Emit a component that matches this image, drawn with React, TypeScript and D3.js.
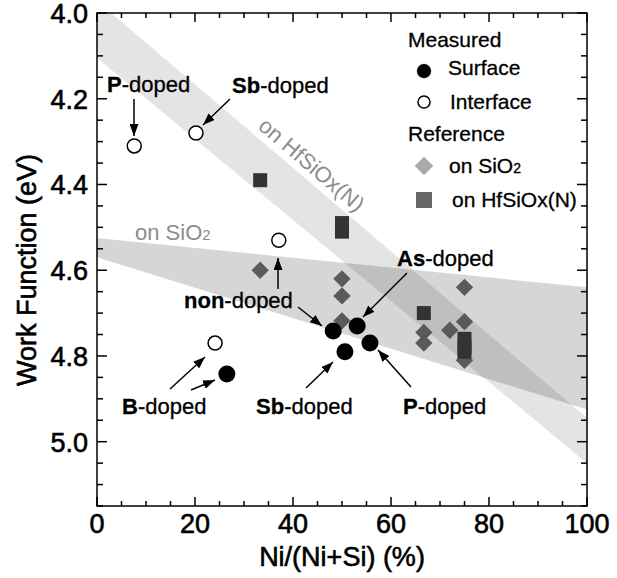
import React, { useEffect, useRef } from "react";
import * as d3 from "d3";

// Ni/(Ni+Si) %, work function eV
const interfacePts = [
  { label: "P", x: 7.6, y: 4.31 },
  { label: "Sb", x: 20.2, y: 4.28 },
  { label: "non", x: 37.1, y: 4.53 },
  { label: "B", x: 24.1, y: 4.77 },
];
const surfacePts = [
  { label: "B", x: 26.5, y: 4.842 },
  { label: "non", x: 48.2, y: 4.742 },
  { label: "As", x: 53.1, y: 4.73 },
  { label: "Sb", x: 50.6, y: 4.79 },
  { label: "P", x: 55.7, y: 4.77 },
];
const refSiO2 = [
  [33.3, 4.6], [50, 4.62], [50, 4.66], [50, 4.718],
  [66.7, 4.745], [66.7, 4.77], [72, 4.74], [75, 4.64], [75, 4.72], [75, 4.81],
];
const refHf = [
  [33.3, 4.39], [50, 4.49], [50, 4.51], [66.7, 4.7], [75, 4.76], [75, 4.78], [75, 4.79],
];
// bands: [x, upper, lower]
const bandHf = [[0, 3.972, 4.105], [100, 4.945, 5.05]];
const bandSiO2 = [[0, 4.525, 4.57], [100, 4.64, 4.925]];

const xTicks = [0, 20, 40, 60, 80, 100];
const yTicks = [4.0, 4.2, 4.4, 4.6, 4.8, 5.0];

const W = 617, H = 578;
const M = { left: 97, top: 13, right: 587, bottom: 506 };
const FONT = "'Liberation Sans', Arial, Helvetica, sans-serif";

export default function App() {
  const ref = useRef<SVGSVGElement>(null);

  useEffect(() => {
    const svg = d3.select(ref.current);
    svg.selectAll("*").remove();
    const x = d3.scaleLinear().domain([0, 100]).range([M.left, M.right]);
    const y = d3.scaleLinear().domain([4.0, 5.15]).range([M.top, M.bottom]);

    svg.append("defs").append("clipPath").attr("id", "clip")
      .append("rect").attr("x", M.left).attr("y", M.top)
      .attr("width", M.right - M.left).attr("height", M.bottom - M.top);
    const mk = svg.select("defs").append("marker").attr("id", "arr")
      .attr("viewBox", "0 0 10 10").attr("refX", 10).attr("refY", 5)
      .attr("markerWidth", 12).attr("markerHeight", 9).attr("markerUnits", "userSpaceOnUse")
      .attr("orient", "auto").attr("preserveAspectRatio", "none");
    mk.append("path").attr("d", "M0,0 L10,5 L0,10 z").attr("fill", "#000");

    const area = d3.area<number[]>()
      .x(d => x(d[0])).y0(d => y(d[1])).y1(d => y(d[2]));
    const gBand = svg.append("g").attr("clip-path", "url(#clip)");
    gBand.append("path").attr("d", area(bandHf)).attr("fill", "#000").attr("fill-opacity", 0.105);
    gBand.append("path").attr("d", area(bandSiO2)).attr("fill", "#000").attr("fill-opacity", 0.16);

    // band labels
    svg.append("text").attr("transform", "translate(257,128) rotate(40.5)")
      .attr("font-family", FONT).attr("font-size", 22).attr("fill", "#8c8c8c")
      .text("on HfSiOx(N)");
    const sio = svg.append("text").attr("x", 135).attr("y", 240)
      .attr("font-family", FONT).attr("font-size", 22).attr("fill", "#8c8c8c");
    sio.append("tspan").text("on SiO");
    sio.append("tspan").attr("font-size", 15).text("2");

    // reference markers
    const sym = d3.symbol();
    svg.append("g").selectAll("path").data(refSiO2).join("path")
      .attr("transform", d => `translate(${x(d[0])},${y(d[1])}) rotate(45)`)
      .attr("d", sym.type(d3.symbolSquare).size(150)())
      .attr("fill", "#5a5a5a");
    svg.append("g").selectAll("rect").data(refHf).join("rect")
      .attr("x", d => x(d[0]) - 7).attr("y", d => y(d[1]) - 7)
      .attr("width", 14).attr("height", 14).attr("fill", "#333");

    svg.append("g").selectAll("circle").data(interfacePts).join("circle")
      .attr("cx", d => x(d.x)).attr("cy", d => y(d.y)).attr("r", 7)
      .attr("fill", "#fff").attr("stroke", "#000").attr("stroke-width", 1.5);
    svg.append("g").selectAll("circle").data(surfacePts).join("circle")
      .attr("cx", d => x(d.x)).attr("cy", d => y(d.y)).attr("r", 8.5)
      .attr("fill", "#000");

    // axes frame
    const frame = svg.append("g").attr("stroke", "#000").attr("stroke-width", 1.5).attr("fill", "none");
    frame.append("rect").attr("x", M.left).attr("y", M.top)
      .attr("width", M.right - M.left).attr("height", M.bottom - M.top);
    const xMinor = d3.range(0, 101, 5);
    const yMinor = d3.range(4.0, 5.151, 0.05);
    xMinor.forEach(v => {
      const L = v % 20 === 0 ? 9 : 5;
      frame.append("line").attr("x1", x(v)).attr("x2", x(v)).attr("y1", M.bottom).attr("y2", M.bottom - L);
      frame.append("line").attr("x1", x(v)).attr("x2", x(v)).attr("y1", M.top).attr("y2", M.top + L);
    });
    yMinor.forEach(v => {
      const major = Math.abs(Math.round(v * 100) % 20) < 1;
      const L = major ? 10 : 6;
      frame.append("line").attr("y1", y(v)).attr("y2", y(v)).attr("x1", M.left).attr("x2", M.left + L);
      frame.append("line").attr("y1", y(v)).attr("y2", y(v)).attr("x1", M.right).attr("x2", M.right - L);
    });

    const tickTxt = (s: d3.Selection<SVGTextElement, any, any, any>) =>
      s.attr("font-family", FONT).attr("font-size", 27).attr("fill", "#000")
        .attr("stroke", "#000").attr("stroke-width", 0.6);
    svg.append("g").selectAll("text").data(xTicks).join("text")
      .attr("x", d => x(d)).attr("y", 533).attr("text-anchor", "middle")
      .text(d => String(d)).call(tickTxt);
    svg.append("g").selectAll("text").data(yTicks).join("text")
      .attr("x", 88).attr("y", d => y(d) + 10).attr("text-anchor", "end")
      .text(d => d.toFixed(1)).call(tickTxt);
    svg.append("text").attr("x", 342).attr("y", 566).attr("text-anchor", "middle")
      .text("Ni/(Ni+Si) (%)").call(tickTxt);
    svg.append("text").attr("transform", "translate(36,270) rotate(-90)").attr("text-anchor", "middle")
      .text("Work Function (eV)").call(tickTxt);

    // legend
    const lg = svg.append("g").attr("font-family", FONT).attr("font-size", 21).attr("fill", "#000")
      .attr("stroke", "#000").attr("stroke-width", 0.3);
    lg.append("text").attr("x", 408).attr("y", 47).text("Measured");
    lg.append("circle").attr("cx", 424).attr("cy", 71).attr("r", 7).attr("fill", "#000");
    lg.append("text").attr("x", 448).attr("y", 75).text("Surface");
    lg.append("circle").attr("cx", 424).attr("cy", 102).attr("r", 6).attr("fill", "#fff")
      .attr("stroke", "#000").attr("stroke-width", 1.5);
    lg.append("text").attr("x", 450).attr("y", 109).text("Interface");
    lg.append("text").attr("x", 408).attr("y", 141).text("Reference");
    lg.append("path").attr("transform", "translate(424,166) rotate(45)")
      .attr("d", d3.symbol().type(d3.symbolSquare).size(170)()).attr("fill", "#aaa").attr("stroke", "none");
    const ls = lg.append("text").attr("x", 449).attr("y", 173);
    ls.append("tspan").text("on SiO");
    ls.append("tspan").attr("font-size", 14).text("2");
    lg.append("rect").attr("x", 416).attr("y", 192).attr("width", 16).attr("height", 16)
      .attr("fill", "#666").attr("stroke", "none");
    lg.append("text").attr("x", 452).attr("y", 207).text("on HfSiOx(N)");

    // annotations
    const ann = svg.append("g").attr("font-family", FONT).attr("font-size", 22).attr("fill", "#000")
      .attr("stroke", "#000").attr("stroke-width", 0.3);
    const label = (tx: number, ty: number, b: string, rest: string) => {
      const t = ann.append("text").attr("x", tx).attr("y", ty);
      t.append("tspan").attr("font-weight", "bold").text(b);
      t.append("tspan").text(rest);
    };
    const arrow = (x1: number, y1: number, x2: number, y2: number) =>
      svg.append("line").attr("x1", x1).attr("y1", y1).attr("x2", x2).attr("y2", y2)
        .attr("stroke", "#000").attr("stroke-width", 1.5).attr("marker-end", "url(#arr)");

    label(107, 92, "P", "-doped");
    arrow(134, 99, 134, 136);
    label(232, 93, "Sb", "-doped");
    arrow(230, 99, 203, 125);
    label(397, 266, "As", "-doped");
    arrow(407, 273, 363, 317);
    label(184, 308, "non", "-doped");
    arrow(278, 289, 278, 258);
    arrow(298, 307, 322, 326);
    label(122, 414, "B", "-doped");
    arrow(170, 389, 205, 357);
    arrow(191, 390, 215, 380);
    label(256, 414, "Sb", "-doped");
    arrow(306, 388, 333, 362);
    label(403, 414, "P", "-doped");
    arrow(411, 387, 378, 350);
  }, []);

  return (
    <svg ref={ref} width={W} height={H}
      style={{ position: "absolute", left: 0, top: 0, background: "#fff" }} />
  );
}
